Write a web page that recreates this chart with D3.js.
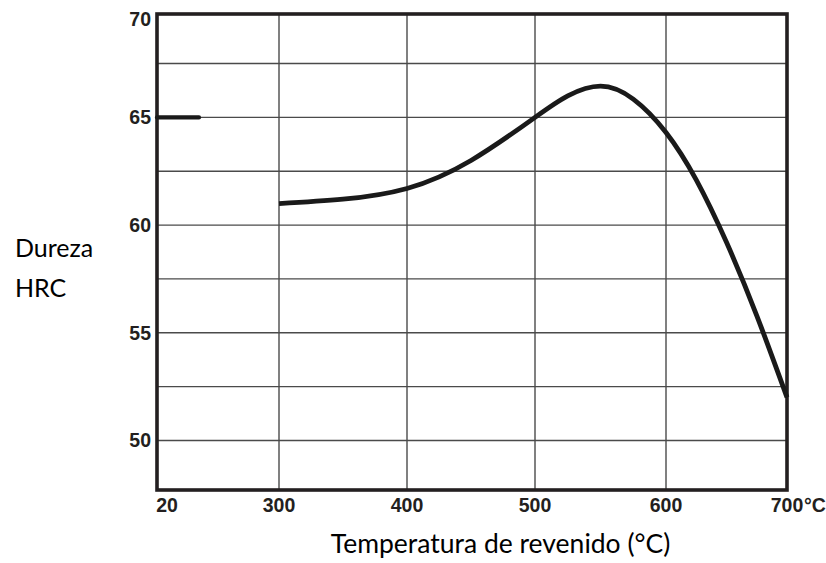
<!DOCTYPE html>
<html>
<head>
<meta charset="utf-8">
<script src="https://cdn.jsdelivr.net/npm/d3@7"></script>
<style>
    body { margin: 0; background: #fff; }
    .tick-label { font-family: 'Liberation Sans', Arial, Helvetica, sans-serif; font-weight: bold; font-size: 19.5px; fill: #231f20; }
    .axis-title { font-family: Lato, 'Open Sans', sans-serif; fill: #000; }
    .grid line { stroke: #4a4a4a; stroke-width: 1.4; }
</style>
</head>
<body>
<main></main>
<script>
// data
var xTickValues = [20, 300, 400, 500, 600, 700]
var yTickValues = [50, 55, 60, 65, 70]
var xGridValues = [300, 400, 500, 600]
var yGridValues = [50, 52.5, 55, 57.5, 60, 62.5, 65, 67.5]

// as hardened (room temperature)
var hardenedTemp = [0, 100]
var hardenedHrc = [65, 65]

// tempering curve
var temperTemp = [300, 350, 400, 450, 500, 525, 550, 575, 600, 625, 650, 675, 700]
var temperHrc = [61.0, 61.2, 61.7, 63.0, 65.0, 66.0, 66.45, 65.85, 64.3, 62.1, 59.2, 55.8, 52.0]

var width = 826,
    height = 563

var svg = d3.select('main').append('svg')
    .attr('width', width)
    .attr('height', height)

// broken x axis: 20 sits just inside the frame, then 300..700
var x = d3.scaleLinear()
    .domain([0, 20, 300, 400, 500, 600, 700])
    .range([157, 167, 279, 407, 535, 666, 787])

var y = d3.scaleLinear()
    .domain([47.7, 69.8])
    .range([490, 14])
    .clamp(true)

var frameL = x(0), frameR = x(700), frameT = y(69.8), frameB = y(47.7)

// grid
var grid = svg.append('g').attr('class', 'grid')
grid.selectAll('.hgrid')
    .data(yGridValues)
    .enter()
    .append('line')
    .attr('x1', frameL)
    .attr('x2', frameR)
    .attr('y1', d => y(d))
    .attr('y2', d => y(d))
grid.selectAll('.vgrid')
    .data(xGridValues)
    .enter()
    .append('line')
    .attr('x1', d => x(d))
    .attr('x2', d => x(d))
    .attr('y1', frameT)
    .attr('y2', frameB)

// frame
svg.append('rect')
    .attr('x', frameL)
    .attr('y', frameT)
    .attr('width', frameR - frameL)
    .attr('height', frameB - frameT)
    .attr('fill', 'none')
    .attr('stroke', '#231f20')
    .attr('stroke-width', 3.6)

// lines
var line = d3.line()
    .x(d => x(d[0]))
    .y(d => y(d[1]))

svg.append('path')
    .datum(d3.zip(hardenedTemp, hardenedHrc))
    .attr('d', line)
    .attr('fill', 'none')
    .attr('stroke', '#1a1a1a')
    .attr('stroke-width', 4.2)
    .attr('stroke-linecap', 'round')

svg.append('path')
    .datum(d3.zip(temperTemp, temperHrc))
    .attr('d', line.curve(d3.curveNatural))
    .attr('fill', 'none')
    .attr('stroke', '#1a1a1a')
    .attr('stroke-width', 4.8)
    .attr('stroke-linecap', 'butt')

// y tick labels
svg.append('g')
    .selectAll('text')
    .data(yTickValues)
    .enter()
    .append('text')
    .attr('class', 'tick-label')
    .attr('x', frameL - 6)
    .attr('y', d => Math.max(y(d), frameT + 5))
    .attr('dy', '0.36em')
    .attr('text-anchor', 'end')
    .text(d => d)

// x tick labels
svg.append('g')
    .selectAll('text')
    .data(xTickValues)
    .enter()
    .append('text')
    .attr('class', 'tick-label')
    .attr('x', d => x(d))
    .attr('y', frameB + 22)
    .attr('text-anchor', 'middle')
    .text(d => d)

// unit after the last tick
svg.append('text')
    .attr('class', 'tick-label')
    .attr('x', x(700) + 17)
    .attr('y', frameB + 22)
    .text('°C')

// axis titles
svg.append('text')
    .attr('class', 'axis-title')
    .attr('x', 15)
    .attr('y', 257)
    .style('font-size', '25px')
    .text('Dureza')
svg.append('text')
    .attr('class', 'axis-title')
    .attr('x', 15)
    .attr('y', 297)
    .style('font-size', '25px')
    .text('HRC')

svg.append('text')
    .attr('class', 'axis-title')
    .attr('x', (331 + 670) / 2)
    .attr('y', 553)
    .style('font-size', '26.5px')
    .style('text-anchor', 'middle')
    .text('Temperatura de revenido (°C)')
</script>
</body>
</html>
